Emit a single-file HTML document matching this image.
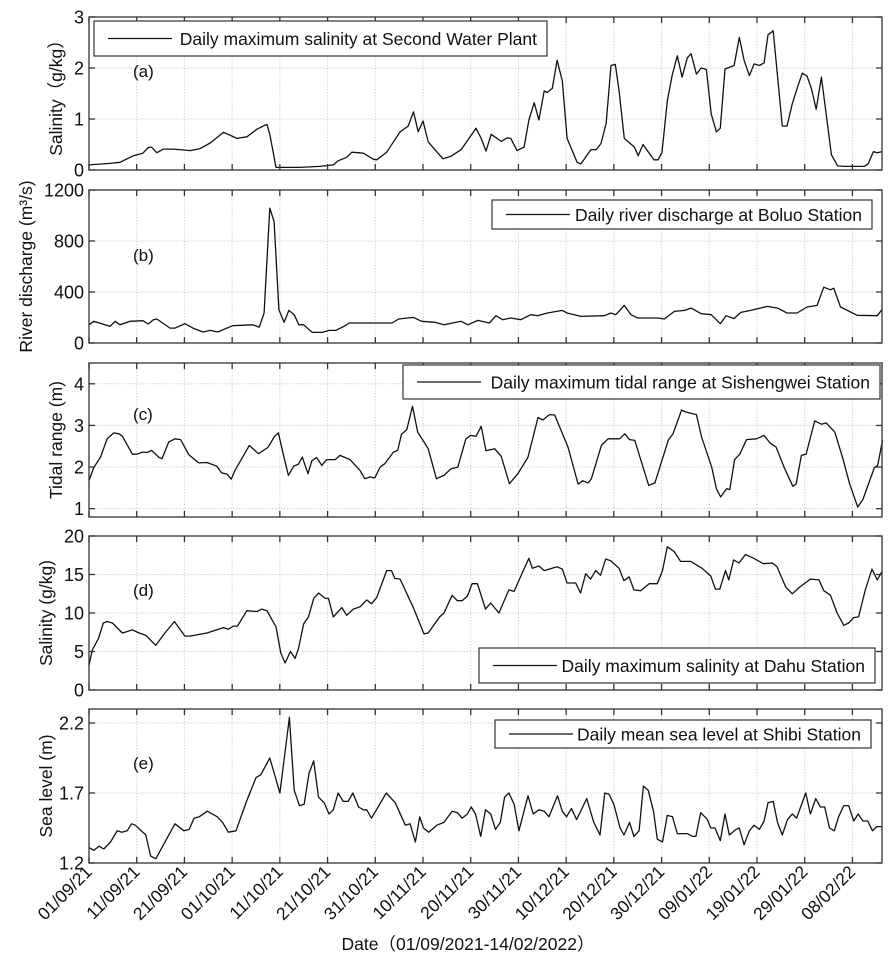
<!DOCTYPE html>
<html><head><meta charset="utf-8"><style>
body{margin:0;background:#fff}
svg{display:block;font-family:"Liberation Sans","Noto Sans CJK SC",sans-serif}
</style></head><body>
<svg id="chart" width="894" height="968" viewBox="0 0 894 968" xmlns="http://www.w3.org/2000/svg"></svg>
<script>
// ---- data (day index from 01/09/2021, value) ----
const tickLabels=["01/09/21","11/09/21","21/09/21","01/10/21","11/10/21","21/10/21","31/10/21","10/11/21","20/11/21","30/11/21","10/12/21","20/12/21","30/12/21","09/01/22","19/01/22","29/01/22","08/02/22"];
const aDays=[0,4.4,6.5,9.3,11.3,12.4,13.1,14.2,15.6,17.7,21.2,23.3,25.4,28.2,31,33.1,35.2,36.9,37.3,37.9,39.2,44.2,48.4,51.2,52.2,54,55.1,57.5,59.6,60.3,62.4,65.2,66.9,68,69,70,71.1,74.2,75.9,78,81.1,82.2,83.2,84.3,86.4,87.6,88.4,89.7,91.2,92.2,93.3,94.3,95.4,96,97.1,98.1,99.2,100.2,102.3,103.1,105.2,106.3,107.3,108.4,109.4,110.3,111.1,112.2,114.3,115.1,116.1,118.4,119.3,120.1,121.2,122.2,123.3,124.3,125.4,126.2,127.3,128.3,129.4,130.4,131.5,132.3,133.3,135.2,136.3,137.3,138.4,139.4,140.5,141.5,142.3,143.4,145.3,146.3,147.4,148.4,149.5,150.5,151.4,152.4,153.5,155.6,156.9,158.3,162.5,163.3,164.4,165.2,166.2];
const aVals=[0.1,0.13,0.15,0.28,0.33,0.44,0.45,0.34,0.41,0.41,0.38,0.42,0.53,0.74,0.62,0.65,0.8,0.88,0.89,0.7,0.05,0.05,0.07,0.1,0.18,0.25,0.35,0.33,0.21,0.2,0.35,0.75,0.86,1.14,0.75,0.96,0.55,0.22,0.27,0.4,0.82,0.62,0.37,0.7,0.56,0.63,0.62,0.38,0.45,0.98,1.32,0.98,1.55,1.52,1.6,2.15,1.75,0.62,0.15,0.12,0.4,0.4,0.52,0.92,2.05,2.07,1.55,0.62,0.45,0.28,0.5,0.2,0.2,0.35,1.35,1.85,2.24,1.82,2.2,2.28,1.88,2.0,1.97,1.1,0.75,0.82,1.98,2.05,2.6,2.15,1.85,2.08,2.05,2.1,2.65,2.73,0.86,0.86,1.3,1.6,1.9,1.84,1.6,1.19,1.82,0.3,0.08,0.07,0.07,0.12,0.36,0.34,0.36];
const bDays=[0,1,4.4,5.5,6.5,8.6,11.3,12.4,13.5,14.2,17,18,20.1,21.8,23.9,25.4,27,30.1,34.3,35.7,36.7,37.9,38.8,39.8,40.9,41.9,43,44,45,46.8,48.9,50.3,51.7,53.4,54.5,59.3,63.5,64.9,68,69.7,72.5,74.4,78,79.4,81.5,83.9,85.3,86.7,88.4,90.5,92.6,94,96.1,99.2,100.2,103.1,108,109.4,110.4,112.2,113.6,115,119.2,120.6,122.7,124.8,126.2,128.3,130.4,132.3,133.5,135.2,136.6,138.7,142.2,144.3,146.3,148.4,150.5,152.6,154,155.4,156.1,157.5,161,165.2,166.2];
const bVals=[143,170,130,170,143,170,175,149,183,188,117,117,151,117,86,99,86,136,143,125,235,1057,952,261,162,256,222,143,143,83,83,99,99,130,157,157,157,188,201,170,162,143,170,143,177,157,214,183,196,183,222,214,235,256,235,209,214,235,222,295,222,196,196,188,248,256,274,230,222,151,214,191,240,256,287,274,235,235,282,295,438,417,430,282,217,214,261];
const cDays=[0,1,2.4,3.8,5.2,6.3,7,9.1,10.1,11.2,12.2,13.1,14.7,15.3,16.7,18,19.2,20.9,23,24.7,26.8,27.8,28.9,29.8,30.6,33.6,35.5,37.5,38.9,39.7,40.8,41.8,42.9,43.9,44.7,45.9,46.7,47.7,48.8,49.8,51.6,52.6,54.7,56.8,57.8,58.9,59.9,61,62,63.8,64.7,65.5,66.6,67.8,68.9,71.1,72.8,74.4,75.9,77.3,79,80,81.1,82.2,83.2,85,86.4,88.1,89.9,92,94.1,95.1,96.5,97.6,100.4,102.5,103.5,104.6,105.3,107.4,108.8,111.2,112.3,113.3,114.4,117.3,118.6,121.4,122.4,124.2,124.9,127.3,128.4,130.5,131.5,132.4,133.6,134.3,135.3,136.4,137.8,139.9,141.5,142.7,144,145.8,147.5,148.2,149.3,150.3,152.1,153.5,154.5,156.3,158,159.4,161.1,162.2,164.6,165.3,166.3];
const cVals=[1.68,1.99,2.24,2.68,2.82,2.8,2.74,2.31,2.31,2.36,2.35,2.4,2.23,2.2,2.6,2.68,2.66,2.3,2.1,2.11,2.02,1.86,1.83,1.71,1.92,2.52,2.32,2.47,2.74,2.82,2.26,1.8,2.02,2.07,2.24,1.84,2.15,2.23,2.04,2.18,2.18,2.28,2.18,1.92,1.72,1.76,1.74,2.0,2.08,2.36,2.4,2.79,2.9,3.46,2.84,2.44,1.72,1.8,1.96,2.0,2.68,2.76,2.74,2.98,2.39,2.44,2.26,1.6,1.84,2.24,3.19,3.13,3.26,3.25,2.48,1.59,1.67,1.62,1.72,2.52,2.68,2.68,2.8,2.66,2.64,1.56,1.62,2.64,2.8,3.37,3.33,3.26,2.72,2.0,1.48,1.28,1.48,1.46,2.18,2.31,2.66,2.68,2.76,2.58,2.48,1.96,1.54,1.59,2.28,2.31,3.11,3.03,3.06,2.84,2.2,1.6,1.04,1.22,1.99,2.04,2.64];
const dDays=[0,0.7,2,3,3.8,4.9,7,9.1,10.5,11.9,14,15.9,17.9,20.1,21.1,24.7,28.2,29.2,30.3,31.1,33.1,35.2,36.2,37.3,39.2,40.2,41.1,42.2,43.2,43.9,45,46,47.1,48.1,49.5,50.2,51.2,53,54,55.4,56.8,58.2,59.2,60.3,62.4,63.4,64.1,65.2,67.9,70.2,71.1,73.5,74.4,76.1,77.2,78.2,79.3,80.3,81.4,83.1,84.2,85.9,88,89.1,90.8,92.2,92.9,94.3,95.4,98.1,99.2,100.2,102,103,104.1,105.1,106.2,107.2,108.3,109.3,111.1,112.1,113.2,114.2,115.6,117.4,119.1,120.2,121.2,122.6,124,126.1,128.5,130.3,131.3,132.2,133.4,134.1,135.1,136.2,137.6,139.3,141.3,143.2,144.2,146,147.4,148.8,151.2,153,154,155.4,156.8,158.2,159.2,160.3,161.3,162.7,164.1,165.2,166.2];
const dVals=[3.2,5.2,6.7,8.7,8.9,8.7,7.4,7.8,7.4,7.1,5.8,7.4,8.9,7.0,7.0,7.4,8.1,7.9,8.3,8.3,10.3,10.2,10.5,10.3,8.2,4.8,3.5,5.0,4.1,5.4,8.6,9.5,11.9,12.6,11.9,11.9,9.5,10.7,9.7,10.5,10.8,11.7,11.2,12.0,15.5,15.5,14.5,14.4,10.8,7.3,7.4,9.5,10.0,12.3,11.6,11.6,12.2,13.8,13.8,10.5,11.3,10.0,13.0,12.8,15.2,17.1,15.8,16.1,15.5,16.0,15.7,13.9,13.9,12.6,15.1,14.4,15.5,14.9,17.0,16.8,15.8,14.2,14.7,13.0,12.9,13.8,13.8,15.5,18.6,18.0,16.7,16.7,15.8,14.8,13.1,13.1,15.5,14.3,16.9,16.5,17.6,17.1,16.4,16.5,16.0,13.4,12.5,13.3,14.4,14.3,12.9,12.3,10.0,8.4,8.7,9.4,9.5,13.0,15.7,14.3,15.4];
const eDays=[0,1,2.1,3.1,4.5,5.9,6.9,8,8.9,9.7,11.9,12.9,14,18,19.9,21,22,23.1,24.8,26.9,28,29.2,30.8,33,35,36,37.9,40,42,43,44.1,45.1,46.1,47.1,48.1,49.3,50.3,51.2,52.2,53.3,54.3,55.3,56.5,57.5,58.2,59.2,62.3,64.2,66.3,67.3,68.4,69.3,70.1,71.2,72.9,74.4,76.1,77.2,78.2,79.3,80.1,81,82.1,83.1,84.2,85.2,86.2,87.1,88,89.1,90.1,92,93.1,94.3,95.4,96.4,98.2,99.2,100.1,101.1,102.2,104.3,105.8,107.1,108.1,109,110,111.3,112.1,113.3,114.2,115.3,116.2,117.2,118.3,119.1,120.2,121.2,122.3,123.3,125.4,126.5,127.2,128.2,129.6,130.3,131.2,132.3,133.3,134.2,135.6,136.3,137.3,138.4,139.4,140.5,141.5,142.3,143.4,144.3,145.3,146.4,147.4,148.3,150.2,151.2,152.3,153.3,154.2,155.2,156.2,157.1,158.2,159.2,160.3,161.2,162.2,163.2,164.2,165.1,166.2];
const eVals=[1.31,1.29,1.32,1.3,1.35,1.43,1.42,1.43,1.48,1.47,1.4,1.25,1.23,1.48,1.43,1.44,1.52,1.53,1.57,1.53,1.49,1.42,1.43,1.64,1.81,1.83,1.95,1.7,2.24,1.72,1.61,1.62,1.84,1.93,1.67,1.63,1.55,1.58,1.7,1.64,1.64,1.7,1.6,1.58,1.58,1.52,1.7,1.63,1.47,1.48,1.35,1.53,1.45,1.42,1.47,1.49,1.57,1.56,1.52,1.55,1.6,1.55,1.39,1.58,1.55,1.44,1.49,1.67,1.7,1.62,1.43,1.68,1.55,1.58,1.57,1.53,1.68,1.57,1.53,1.59,1.51,1.66,1.49,1.4,1.7,1.69,1.62,1.45,1.4,1.49,1.39,1.43,1.75,1.72,1.57,1.37,1.35,1.54,1.53,1.41,1.41,1.39,1.39,1.56,1.51,1.45,1.45,1.36,1.55,1.4,1.44,1.45,1.33,1.43,1.47,1.44,1.5,1.63,1.64,1.49,1.4,1.51,1.55,1.52,1.7,1.55,1.66,1.6,1.6,1.45,1.43,1.53,1.61,1.61,1.5,1.55,1.5,1.5,1.43,1.46,1.46];

const svg=document.getElementById('chart');
const NS='http://www.w3.org/2000/svg';
function mk(tag,attrs,parent){const e=document.createElementNS(NS,tag);for(const k in attrs)e.setAttribute(k,attrs[k]);(parent||svg).appendChild(e);return e;}
const X0=89,X1=882,DMAX=166.2;
const xs=d=>X0+(d/DMAX)*(X1-X0);

const panels=[
 {id:'a',top:17,bot:170,min:0,max:3,ticks:[0,1,2,3],days:aDays,vals:aVals,ylab:'Salinity（g/kg）',ylx:62,tag:'(a)',
  leg:[94,21,453,35],legText:'Daily maximum salinity at Second Water Plant'},
 {id:'b',top:190,bot:343,min:0,max:1200,ticks:[0,400,800,1200],days:bDays,vals:bVals,ylab:'River discharge (m³/s)',ylx:32,tag:'(b)',
  leg:[492,200,380,29],legText:'Daily river discharge at Boluo Station'},
 {id:'c',top:363,bot:517,min:0.8,max:4.5,ticks:[1,2,3,4],days:cDays,vals:cVals,ylab:'Tidal range (m)',ylx:62,tag:'(c)',
  leg:[403,365,477,34],legText:'Daily maximum tidal range at Sishengwei Station'},
 {id:'d',top:536,bot:690,min:0,max:20,ticks:[0,5,10,15,20],days:dDays,vals:dVals,ylab:'Salinity (g/kg)',ylx:52,tag:'(d)',
  leg:[479,648,396,35],legText:'Daily maximum salinity at Dahu Station'},
 {id:'e',top:709,bot:863,min:1.2,max:2.3,ticks:[1.2,1.7,2.2],days:eDays,vals:eVals,ylab:'Sea level (m)',ylx:52,tag:'(e)',
  leg:[495,720,376,28],legText:'Daily mean sea level at Shibi Station'}
];

panels.forEach(p=>{
 const g=mk('g',{});
 
 
 const ys=v=>p.bot-(v-p.min)/(p.max-p.min)*(p.bot-p.top);
 tickLabels.forEach((t,i)=>{const x=xs(i*10);
  const l=mk('line',{x1:x,x2:x,y1:p.top,y2:p.bot,stroke:'#d4d4d4','stroke-width':1,'stroke-dasharray':'1.5 1.5'},g);
  });
 p.ticks.forEach(t=>{const y=ys(t);
  const l=mk('line',{x1:X0,x2:X1,y1:y,y2:y,stroke:'#d4d4d4','stroke-width':1,'stroke-dasharray':'1.5 1.5'},g);
  });
 const pts=p.days.map((d,i)=>xs(d).toFixed(1)+','+ys(p.vals[i]).toFixed(1)).join(' ');
 const pl=mk('polyline',{points:pts,fill:'none',stroke:'#111','stroke-width':1.3,'stroke-linejoin':'round'},g);
 
 const fr=mk('rect',{x:X0,y:p.top,width:X1-X0,height:p.bot-p.top,fill:'none',stroke:'#333','stroke-width':1.3},g);
 
 tickLabels.forEach((t,i)=>{const x=xs(i*10);
  const a=mk('line',{x1:x,x2:x,y1:p.bot,y2:p.bot-6,stroke:'#333','stroke-width':1.3},g);
  
  const b=mk('line',{x1:x,x2:x,y1:p.top,y2:p.top+6,stroke:'#333','stroke-width':1.3},g);
  });
 p.ticks.forEach(t=>{const y=ys(t);
  const a=mk('line',{x1:X0,x2:X0+6,y1:y,y2:y,stroke:'#333','stroke-width':1.3},g);
  
  const b=mk('line',{x1:X1,x2:X1-6,y1:y,y2:y,stroke:'#333','stroke-width':1.3},g);
  
  const tx=mk('text',{x:X0-5,y:y+6.5,'text-anchor':'end','font-size':18,fill:'#111'},g);
  tx.textContent=String(t);
  });
 const cy=(p.top+p.bot)/2;
 const yl=mk('text',{x:p.ylx,y:cy,'text-anchor':'middle','font-size':17.5,fill:'#111',transform:`rotate(-90 ${p.ylx} ${cy})`},g);
 yl.textContent=p.ylab;
 
 const pt=mk('text',{x:133,y:p.top+(p.id==='b'?71:p.id==='e'?60:p.id==='c'?57:60),'font-size':17,fill:'#111'},g);
 pt.textContent=p.tag;
 
 const [lx,ly,lw,lh]=p.leg;
 const lg=mk('g',{},g);
 
 mk('rect',{x:lx,y:ly,width:lw,height:lh,fill:'#fff',stroke:'#333','stroke-width':1.2},lg);
 const my=ly+lh/2;
 mk('line',{x1:lx+14,x2:lx+78,y1:my,y2:my,stroke:'#111','stroke-width':1.2},lg);
 const lt=mk('text',{x:lx+lw-10,y:my+6.5,'text-anchor':'end','font-size':17.5,fill:'#111'},lg);
 lt.textContent=p.legText;
 
});

tickLabels.forEach((t,i)=>{const x=xs(i*10)+4,y=873;
 const tx=mk('text',{x:x,y:y,'text-anchor':'end','font-size':17.5,fill:'#111',transform:`rotate(-45 ${x} ${y})`});
 tx.textContent=t;
 });
const xt=mk('text',{x:468,y:950,'text-anchor':'middle','font-size':17.5,fill:'#111'});
xt.textContent='Date（01/09/2021-14/02/2022）';

</script>
</body></html>
